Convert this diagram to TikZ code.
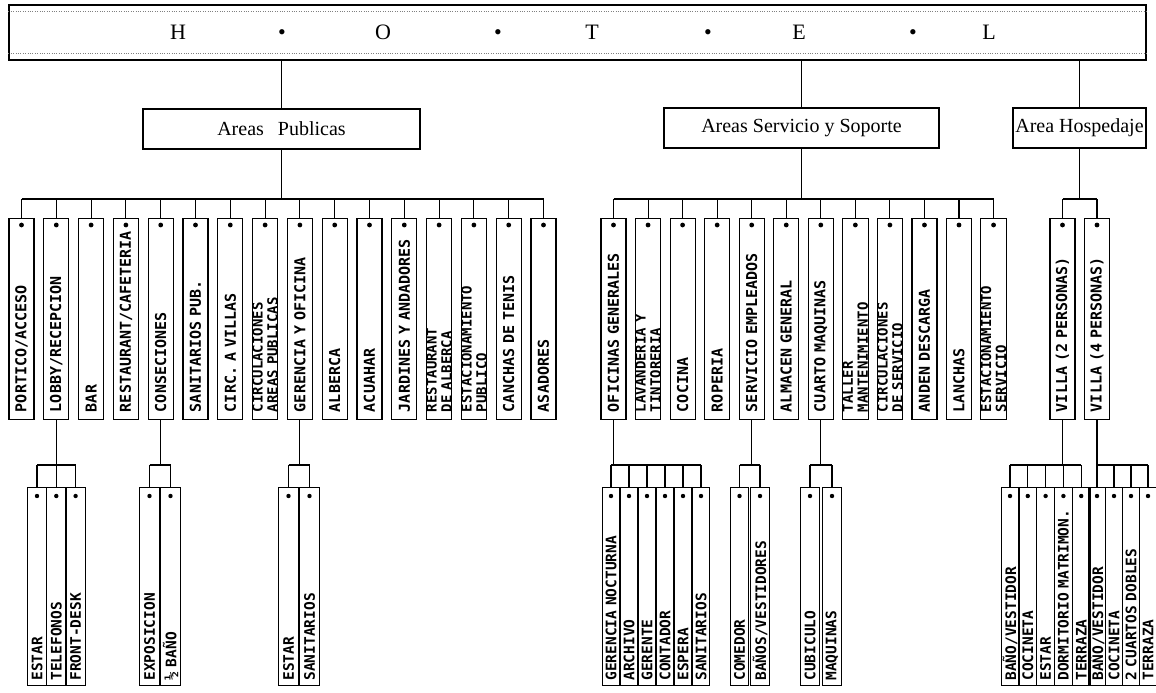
\documentclass[tikz,border=0pt]{standalone}
\usepackage{fontspec}
\setmainfont{Liberation Serif}
\newfontface\roomfont{DejaVu Sans Mono Bold}
\usetikzlibrary{calc}

\newcommand\twolines[2]{\roomfont\fontsize{14}{11}\selectfont #1\\#2}

\tikzset{
  area/.style={draw, line width=1.3pt, minimum height=40pt, inner sep=0pt, font=\fontsize{20}{20}\selectfont},
  room/.style={draw, line width=1.1pt, rotate=90, anchor=east, minimum height=25pt, text width=186pt,
    inner xsep=7.5pt, inner ysep=0pt, align=left, font=\roomfont\fontsize{15}{15}\selectfont},
  sub/.style={room, text width=188pt, inner xsep=5pt, font=\roomfont\fontsize{14.5}{14.5}\selectfont}
}

\begin{document}
\begin{tikzpicture}[x=1pt,y=-1pt,line width=1.1pt]
\useasboundingbox (0,0) rectangle (1156,693);

\node[draw, line width=1.4pt, minimum width=1137pt, minimum height=55pt] (hotel) at (577.5,32.5) {};
\draw[gray, dotted, thin] ([yshift=-7pt]hotel.north west) -- ([yshift=-7pt]hotel.north east);
\draw[gray, dotted, thin] ([yshift=7pt]hotel.south west) -- ([yshift=7pt]hotel.south east);
\foreach \c/\x [count=\i] in {H/178, \textbullet/282, O/383, \textbullet/498, T/592, \textbullet/708, E/799, \textbullet/913, L/989}
  \node[anchor=base, font=\fontsize{22}{22}\selectfont] (ltr\i) at (\x,40) {\c};

\node[area, minimum width=277pt] (pub) at (281.5,129) {Areas\hspace{0.7em}Publicas};
\node[area, minimum width=275pt] (srv) at (801.5,128) {Areas Servicio y Soporte};
\node[area, minimum width=133pt] (hos) at (1079.5,128) {Area Hospedaje};
\foreach \a in {pub,srv,hos}
  \draw (hotel.south -| \a.north) -- (\a.north);

% areas publicas
\foreach \t [count=\i] in {PORTICO/ACCESO, LOBBY/RECEPCION, BAR, RESTAURANT/CAFETERIA, CONSECIONES,
  SANITARIOS PUB., CIRC. A VILLAS, \twolines{CIRCULACIONES}{AREAS PUBLICAS}, GERENCIA Y OFICINA,
  ALBERCA, ACUAHAR, JARDINES Y ANDADORES, \twolines{RESTAURANT}{DE ALBERCA},
  \twolines{ESTACIONAMIENTO}{PUBLICO}, CANCHAS DE TENIS, ASADORES}
  \node[room] (p\i) at ({21.5+34.8*(\i-1)},218) {\t};
\draw (pub.south) -- (pub.south |- 0,199);
\draw (p1.east |- 0,199) -- (p16.east |- 0,199);
\foreach \i in {1,...,16} {
  \draw (p\i.east) -- (p\i.east |- 0,199);
  \fill ($(p\i.east)+(0,7)$) circle (2.4pt);
}

% areas servicio y soporte
\foreach \t [count=\i] in {OFICINAS GENERALES, \twolines{LAVANDERIA Y}{TINTORERIA}, COCINA, ROPERIA,
  SERVICIO EMPLEADOS, ALMACEN GENERAL, CUARTO MAQUINAS, \twolines{TALLER}{MANTENIMIENTO},
  \twolines{CIRCULACIONES}{DE SERVICIO}, ANDEN DESCARGA, LANCHAS, \twolines{ESTACIONAMIENTO}{SERVICIO}}
  \node[room] (s\i) at ({613.5+34.55*(\i-1)},218) {\t};
\draw (srv.south) -- (srv.south |- 0,199);
\draw (s1.east |- 0,199) -- (s12.east |- 0,199);
\foreach \i in {1,...,12} {
  \draw (s\i.east) -- (s\i.east |- 0,199);
  \fill ($(s\i.east)+(0,7)$) circle (2.4pt);
}

% area hospedaje
\node[room] (v1) at (1062.5,218) {VILLA (2 PERSONAS)};
\node[room] (v2) at (1097,218) {VILLA (4 PERSONAS)};
\draw (hos.south) -- (hos.south |- 0,199);
\draw (v1.east |- 0,199) -- (v2.east |- 0,199);
\foreach \i in {1,2} {
  \draw (v\i.east) -- (v\i.east |- 0,199);
  \fill ($(v\i.east)+(0,7)$) circle (2.4pt);
}

% tercer nivel
\foreach \t [count=\i] in {ESTAR, TELEFONOS, FRONT-DESK}
  \node[sub, minimum height=19pt] (lob\i) at ({37+19.3*(\i-1)},487) {\t};
\draw (p2.west) -- (p2.west |- 0,465);
\draw (lob1.east |- 0,465) -- (lob3.east |- 0,465);
\foreach \i in {1,2,3} {
  \draw (lob\i.east) -- (lob\i.east |- 0,465);
  \fill ($(lob\i.east)+(0,9)$) circle (2.2pt);
}

\foreach \t [count=\i] in {EXPOSICION, \textonehalf\ BAÑO}
  \node[sub, minimum height=20pt] (con\i) at ({149.5+21*(\i-1)},487) {\t};
\draw (p5.west) -- (p5.west |- 0,465);
\draw (con1.east |- 0,465) -- (con2.east |- 0,465);
\foreach \i in {1,2} {
  \draw (con\i.east) -- (con\i.east |- 0,465);
  \fill ($(con\i.east)+(0,9)$) circle (2.2pt);
}

\foreach \t [count=\i] in {ESTAR, SANITARIOS}
  \node[sub, minimum height=20pt] (ger\i) at ({288.5+21*(\i-1)},487) {\t};
\draw (p9.west) -- (p9.west |- 0,465);
\draw (ger1.east |- 0,465) -- (ger2.east |- 0,465);
\foreach \i in {1,2} {
  \draw (ger\i.east) -- (ger\i.east |- 0,465);
  \fill ($(ger\i.east)+(0,9)$) circle (2.2pt);
}

\foreach \t [count=\i] in {GERENCIA NOCTURNA, ARCHIVO, GERENTE, CONTADOR, ESPERA, SANITARIOS}
  \node[sub, minimum height=17.5pt] (ofi\i) at ({611+18*(\i-1)},487) {\t};
\draw (s1.west) -- (s1.west |- 0,465);
\draw (ofi1.east |- 0,465) -- (ofi6.east |- 0,465);
\foreach \i in {1,...,6} {
  \draw (ofi\i.east) -- (ofi\i.east |- 0,465);
  \fill ($(ofi\i.east)+(0,9)$) circle (2.2pt);
}

\foreach \t [count=\i] in {COMEDOR, BAÑOS/VESTIDORES}
  \node[sub, minimum height=18.5pt] (emp\i) at ({739.5+20.5*(\i-1)},487) {\t};
\draw (s5.west) -- (s5.west |- 0,465);
\draw (emp1.east |- 0,465) -- (emp2.east |- 0,465);
\foreach \i in {1,2} {
  \draw (emp\i.east) -- (emp\i.east |- 0,465);
  \fill ($(emp\i.east)+(0,9)$) circle (2.2pt);
}

\foreach \t [count=\i] in {CUBICULO, MAQUINAS}
  \node[sub, minimum height=19pt] (maq\i) at ({810+22*(\i-1)},487) {\t};
\draw (s7.west) -- (s7.west |- 0,465);
\draw (maq1.east |- 0,465) -- (maq2.east |- 0,465);
\foreach \i in {1,2} {
  \draw (maq\i.east) -- (maq\i.east |- 0,465);
  \fill ($(maq\i.east)+(0,9)$) circle (2.2pt);
}

\foreach \t [count=\i] in {BAÑO/VESTIDOR, COCINETA, ESTAR, DORMITORIO MATRIMON., TERRAZA}
  \node[sub, minimum height=17.5pt] (vd\i) at ({1010+17.8*(\i-1)},487) {\t};
\draw (v1.west) -- (v1.west |- 0,465);
\draw (vd1.east |- 0,465) -- (vd5.east |- 0,465);
\foreach \i in {1,...,5} {
  \draw (vd\i.east) -- (vd\i.east |- 0,465);
  \fill ($(vd\i.east)+(0,9)$) circle (2.2pt);
}

\foreach \t [count=\i] in {BAÑO/VESTIDOR, COCINETA, 2 CUARTOS DOBLES, TERRAZA}
  \node[sub, minimum height=16.5pt] (vc\i) at ({1097+17*(\i-1)},487) {\t};
\draw (v2.west) -- (v2.west |- 0,465);
\draw (vc1.east |- 0,465) -- (vc4.east |- 0,465);
\foreach \i in {1,...,4} {
  \draw (vc\i.east) -- (vc\i.east |- 0,465);
  \fill ($(vc\i.east)+(0,9)$) circle (2.2pt);
}
\end{tikzpicture}
\end{document}
